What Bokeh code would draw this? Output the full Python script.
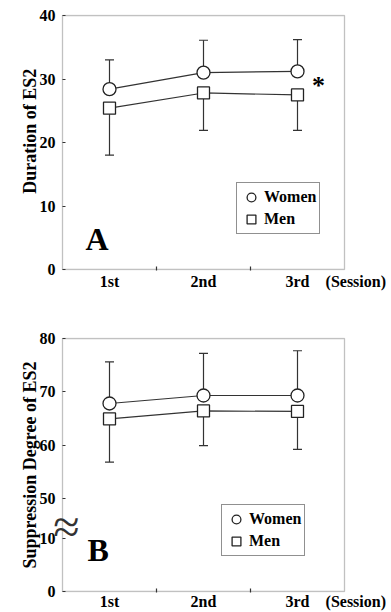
from bokeh.plotting import figure
from bokeh.layouts import column
from bokeh.models import (ColumnDataSource, Whisker, TeeHead, FixedTicker, Legend,
                          LegendItem, Label, Range1d, BoxAnnotation)
from bokeh.embed import file_html
from bokeh.resources import INLINE

# ---------------- data ----------------
sessions = ["1st", "2nd", "3rd"]
session_x = [1, 2, 3]
session_unit = "(Session)"

a_women_mean = [28.4, 31.0, 31.2]
a_women_sd = [4.6, 5.1, 5.0]
a_men_mean = [25.4, 27.8, 27.5]
a_men_sd = [7.4, 5.9, 5.6]
a_yticks = [0, 10, 20, 30, 40]

b_women_mean = [67.8, 69.3, 69.3]
b_women_sd = [7.8, 7.9, 8.4]
b_men_mean = [64.9, 66.4, 66.3]
b_men_sd = [8.1, 6.5, 7.1]
b_yticks = [0, 10, 50, 60, 70, 80]

FONT = "Liberation Serif"
INK = "#222222"
LINE = "#333333"

# ---------------- layout constants (pixels) ----------------
PX_X = 94.0          # pixels per session step
BOX_LEFT = 62        # left edge of the plot box on the canvas
EXT_L = 12           # frame extends this many px left of the box
EXT_R = 47           # ... and right of the box (to the canvas edge)
UNIT_POS = 3.62      # where "(Session)" sits on the x scale
NBSP = "\u00a0"


def brk(v):
    # broken axis (B): 0..10 as is, then 50..80 shifted down
    return v if v <= 10 else 17.5 + (v - 50)


def panel(women_mean, women_sd, men_mean, men_sd, yticks, ymax, transform,
          height, border_top, border_bottom, box_px, ylabel, letter, letter_off,
          legend_loc, xlabel_standoff):
    ymax_u = transform(ymax)
    pad = ymax_u / box_px          # one pixel in y units
    p = figure(width=391, height=height, output_backend="svg", toolbar_location=None,
               x_range=Range1d(0.5 - EXT_L / PX_X, 3.5 + EXT_R / PX_X),
               y_range=Range1d(-pad, ymax_u + pad),
               min_border_left=BOX_LEFT - EXT_L, min_border_right=0,
               min_border_top=border_top, min_border_bottom=border_bottom)
    p.title.visible = False
    p.xgrid.visible = False
    p.ygrid.visible = False
    p.outline_line_color = None
    p.background_fill_color = "white"
    p.border_fill_color = "white"

    # plot box
    p.add_layout(BoxAnnotation(left=0.5, right=3.5, bottom=0, top=ymax_u,
                               fill_alpha=0, line_color="#333333", line_width=1.3,
                               level="underlay"))

    # y axis
    ticks_u = [transform(t) for t in yticks]
    p.yaxis.ticker = FixedTicker(ticks=ticks_u)
    p.yaxis.major_label_overrides = {tu: str(t) for tu, t in zip(ticks_u, yticks)}
    p.yaxis.axis_line_color = None
    p.yaxis.major_tick_line_color = "#333333"
    p.yaxis.major_tick_line_width = 1.2
    p.yaxis.major_tick_out = -EXT_L
    p.yaxis.major_tick_in = EXT_L + 3
    p.yaxis.minor_tick_line_color = None
    p.yaxis.minor_tick_out = 0
    p.yaxis.minor_tick_in = 0
    p.yaxis.major_label_standoff = -5
    p.yaxis.axis_label = ylabel
    p.yaxis.axis_label_standoff = -3
    p.yaxis.axis_label_text_font = FONT
    p.yaxis.axis_label_text_font_style = "bold"
    p.yaxis.axis_label_text_font_size = "18px"
    p.yaxis.axis_label_text_color = "black"

    # x axis
    p.xaxis.ticker = FixedTicker(ticks=session_x + [UNIT_POS], minor_ticks=[1.5, 2.5])
    overrides = {x: s for x, s in zip(session_x, sessions)}
    overrides[UNIT_POS] = session_unit
    p.xaxis.major_label_overrides = overrides
    p.xaxis.axis_line_color = None
    p.xaxis.major_tick_line_color = None
    p.xaxis.major_tick_in = 0
    p.xaxis.major_tick_out = 0
    p.xaxis.minor_tick_line_color = "#333333"
    p.xaxis.minor_tick_line_width = 1.2
    p.xaxis.minor_tick_in = 4
    p.xaxis.minor_tick_out = 0
    p.xaxis.major_label_standoff = xlabel_standoff

    for ax in (p.xaxis, p.yaxis):
        ax.major_label_text_font = FONT
        ax.major_label_text_font_style = "bold"
        ax.major_label_text_font_size = "16px"
        ax.major_label_text_color = "black"

    # data
    wm = [transform(v) for v in women_mean]
    wu = [transform(v + s) for v, s in zip(women_mean, women_sd)]
    mm = [transform(v) for v in men_mean]
    ml = [transform(v - s) for v, s in zip(men_mean, men_sd)]
    src = ColumnDataSource(dict(x=session_x, wm=wm, wu=wu, mm=mm, ml=ml))

    w_wh = Whisker(source=src, base="x", upper="wu", lower="wm", dimension="height",
                   line_color=LINE, line_width=1.2, lower_head=None,
                   upper_head=TeeHead(size=9, line_color=LINE, line_width=1.2))
    m_wh = Whisker(source=src, base="x", upper="mm", lower="ml", dimension="height",
                   line_color=LINE, line_width=1.2, upper_head=None,
                   lower_head=TeeHead(size=9, line_color=LINE, line_width=1.2))
    w_wh.level = "underlay"
    m_wh.level = "underlay"
    p.add_layout(w_wh)
    p.add_layout(m_wh)

    p.line("x", "wm", source=src, line_color=LINE, line_width=1.2)
    p.line("x", "mm", source=src, line_color=LINE, line_width=1.2)
    rw = p.scatter("x", "wm", source=src, marker="circle", size=13,
                   fill_color="white", line_color=INK, line_width=1.3)
    rm = p.scatter("x", "mm", source=src, marker="square", size=12,
                   fill_color="white", line_color=INK, line_width=1.3)

    legend = Legend(items=[LegendItem(label="Women", renderers=[rw]),
                           LegendItem(label="Men", renderers=[rm])],
                    location=legend_loc, orientation="vertical",
                    border_line_color=INK, border_line_width=1.5,
                    background_fill_color="white", background_fill_alpha=1.0,
                    label_text_font=FONT, label_text_font_style="bold",
                    label_text_font_size="16px", label_text_color="black",
                    glyph_width=22, glyph_height=22, spacing=0, padding=3,
                    label_standoff=2, margin=0)
    p.add_layout(legend)

    p.add_layout(Label(x=0.5, y=0, x_offset=letter_off[0], y_offset=letter_off[1],
                       text=letter, text_font=FONT, text_font_style="bold",
                       text_font_size="32px", text_baseline="alphabetic",
                       text_color="black"))
    return p


pa = panel(a_women_mean, a_women_sd, a_men_mean, a_men_sd, a_yticks, 40,
           lambda v: v, 300, 14, 30, 254, NBSP * 5 + "Duration of ES2", "A", (23, 31),
           (186, 36), 2)
pa.add_layout(Label(x=3, y=29.4, x_offset=21, y_offset=12, text="*",
                    text_font=FONT, text_font_style="bold", text_font_size="26px",
                    text_align="center", text_baseline="top", text_color="black"))

pb = panel(b_women_mean, b_women_sd, b_men_mean, b_men_sd, b_yticks, 80,
           brk, 312, 37, 19, 254, "Suppression Degree of ES2", "B", (25, 42),
           (171, 36), 0)
pb.add_layout(Label(x=0.5, y=12.2, x_offset=4, text="\u2248", text_font=FONT,
                    text_font_size="48px", text_align="center",
                    text_baseline="middle", text_color="#333333"))

layout = column(pa, pb, spacing=0)
open("out.html", "w").write(file_html(layout, INLINE))
